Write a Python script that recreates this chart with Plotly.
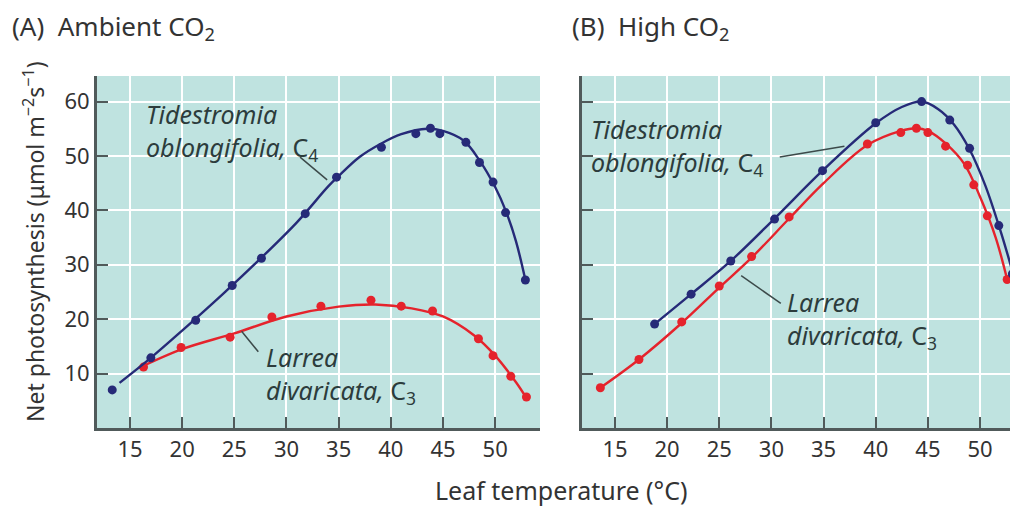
import plotly.graph_objects as go

# ---------------- data ----------------
# Panel A: ambient CO2
a_c4_temp = [13.3, 17.0, 21.3, 24.8, 27.6, 31.8, 34.8, 39.1, 42.4, 43.8, 44.7, 47.2, 48.5, 49.8, 51.0, 52.9]
a_c4_rate = [7.0, 12.9, 19.8, 26.2, 31.2, 39.4, 46.1, 51.6, 54.1, 55.1, 54.1, 52.5, 48.8, 45.2, 39.6, 27.2]
a_c3_temp = [16.3, 19.9, 24.6, 28.6, 33.3, 38.1, 41.0, 44.0, 48.4, 49.8, 51.5, 53.0]
a_c3_rate = [11.2, 14.8, 16.7, 20.4, 22.4, 23.5, 22.4, 21.5, 16.4, 13.3, 9.5, 5.7]

# fitted curves, panel A
a_c4_fit_temp = [14.0, 17.0, 20.0, 24.0, 27.0, 31.0, 34.0, 35.0, 37.0, 39.0, 41.0, 43.5, 45.0, 47.0, 48.5, 50.0, 51.0, 52.0, 52.9]
a_c4_fit_rate = [8.3, 12.9, 17.9, 24.8, 30.2, 37.8, 44.4, 46.3, 49.8, 52.2, 54.0, 55.0, 54.6, 52.8, 49.2, 44.3, 40.0, 34.3, 27.2]
a_c3_fit_temp = [15.8, 20.0, 25.0, 30.0, 35.0, 38.5, 42.0, 45.0, 48.0, 50.0, 52.0, 53.0]
a_c3_fit_rate = [11.0, 14.5, 17.4, 20.5, 22.3, 22.7, 22.0, 20.5, 17.0, 13.3, 8.4, 5.5]

# Panel B: high CO2
b_c4_temp = [18.8, 22.3, 26.1, 30.3, 34.9, 40.0, 44.4, 47.1, 49.0, 51.8, 53.1]
b_c4_rate = [19.1, 24.6, 30.7, 38.4, 47.3, 56.1, 60.0, 56.6, 51.4, 37.2, 28.3]
b_c3_temp = [13.6, 17.3, 21.4, 25.0, 28.1, 31.7, 39.2, 42.4, 43.9, 45.0, 46.7, 48.8, 49.4, 50.7, 52.6]
b_c3_rate = [7.4, 12.6, 19.5, 26.1, 31.5, 38.8, 52.2, 54.3, 55.1, 54.3, 51.8, 48.3, 44.7, 39.0, 27.3]

b_c4_fit_temp = [18.8, 22.3, 26.1, 30.3, 34.9, 40.0, 42.5, 44.4, 46.0, 47.5, 49.0, 50.5, 52.0, 53.3]
b_c4_fit_rate = [19.1, 24.6, 30.7, 38.5, 47.3, 56.0, 59.0, 60.0, 58.6, 55.8, 51.2, 44.6, 36.0, 27.5]
b_c3_fit_temp = [13.6, 17.3, 21.4, 25.0, 28.1, 31.7, 35.0, 39.2, 42.4, 43.9, 45.0, 46.7, 48.5, 50.0, 51.5, 52.6]
b_c3_fit_rate = [7.4, 12.6, 19.3, 25.8, 31.3, 38.5, 45.0, 52.0, 54.6, 55.1, 54.6, 52.3, 48.5, 42.5, 35.0, 27.3]

x_ticks = [15, 20, 25, 30, 35, 40, 45, 50]
y_ticks = [10, 20, 30, 40, 50, 60]

# ---------------- styling ----------------
BLUE = "#262a78"
RED = "#e5232c"
BG = "#bfe3e0"
AXIS = "#505a5a"
TXT = "#333333"
LBL = "#2c3c3c"
FONT = "Noto Sans"

# the page adds an 8 px body margin; the figure is sized to fill the rest of the window
OFF = 8
W, H = 1018 - OFF, 506 - OFF
L, R, T, B = 97 - OFF, 0, 76 - OFF, 78
PW = W - L - R
PH = H - T - B


def px(x):
    return (x - OFF - L) / PW


def py(y):
    return (H - B - (y - OFF)) / PH


fig = go.Figure()

def add_series(t, r, ft, fr, color, xa, ya):
    fig.add_trace(go.Scatter(x=ft, y=fr, mode="lines", line=dict(color=color, width=2.4, shape="spline", smoothing=1.0),
                             xaxis=xa, yaxis=ya, hoverinfo="skip", showlegend=False))
    fig.add_trace(go.Scatter(x=t, y=r, mode="markers", marker=dict(color=color, size=9),
                             xaxis=xa, yaxis=ya, showlegend=False))

add_series(a_c3_temp, a_c3_rate, a_c3_fit_temp, a_c3_fit_rate, RED, "x", "y")
add_series(a_c4_temp, a_c4_rate, a_c4_fit_temp, a_c4_fit_rate, BLUE, "x", "y")
add_series(b_c3_temp, b_c3_rate, b_c3_fit_temp, b_c3_fit_rate, RED, "x2", "y2")
add_series(b_c4_temp, b_c4_rate, b_c4_fit_temp, b_c4_fit_rate, BLUE, "x2", "y2")

xa_common = dict(tickvals=x_ticks, ticks="inside", ticklen=11, tickwidth=2, tickcolor=AXIS,
                 showline=True, linecolor=AXIS, linewidth=3, showgrid=True, gridcolor="white", gridwidth=2,
                 zeroline=False, tickfont=dict(family=FONT, size=22, color=TXT), mirror=False, fixedrange=True)
ya_common = dict(tickvals=y_ticks, ticks="inside", ticklen=11, tickwidth=2, tickcolor=AXIS,
                 showline=True, linecolor=AXIS, linewidth=3, showgrid=True, gridcolor="white", gridwidth=2,
                 zeroline=False, range=[0, 64.7], tickfont=dict(family=FONT, size=22, color=TXT), fixedrange=True)

dA = [0, px(540)]
dB = [px(582), 1]

fig.update_layout(
    width=W, height=H,
    margin=dict(l=L, r=R, t=T, b=B),
    paper_bgcolor="white",
    plot_bgcolor="white",
    xaxis=dict(domain=dA, range=[11.84, 54.3], anchor="y", **xa_common),
    yaxis=dict(domain=[0, 1], anchor="x", **ya_common),
    xaxis2=dict(domain=dB, range=[11.84, 53.64], anchor="y2", **xa_common),
    yaxis2=dict(domain=[0, 1], anchor="x2", showticklabels=False, **ya_common),
    showlegend=False,
)

# teal panel backgrounds
for xr, yr in (("x domain", "y domain"), ("x2 domain", "y2 domain")):
    fig.add_shape(type="rect", xref=xr, yref=yr, x0=0, x1=1, y0=0, y1=1,
                  fillcolor=BG, line=dict(width=0), layer="below")

# leader lines
leaders = [
    ("x", "y", 31.3, 49.8, 33.9, 45.6),
    ("x", "y", 25.7, 17.8, 27.3, 14.0),
    ("x2", "y2", 30.8, 49.8, 37.0, 51.8),
    ("x2", "y2", 27.1, 28.0, 30.9, 22.9),
]
for xr, yr, x0, y0, x1, y1 in leaders:
    fig.add_shape(type="line", xref=xr, yref=yr, x0=x0, y0=y0, x1=x1, y1=y1,
                  line=dict(color="#3c4a4a", width=1.5))

def label(text, x, y, size=25, color=LBL, xanchor="left", angle=0):
    fig.add_annotation(text=text, xref="paper", yref="paper", x=px(x), y=py(y),
                       xanchor=xanchor, yanchor="middle", showarrow=False, textangle=angle,
                       align="left", font=dict(family=FONT, size=size, color=color))

# curve labels
label("<i>Tidestromia</i><br><i>oblongifolia,</i> C<sub>4</sub>", 144, 132)
label("<i>Larrea</i><br><i>divaricata,</i> C<sub>3</sub>", 264, 375)
label("<i>Tidestromia</i><br><i>oblongifolia,</i> C<sub>4</sub>", 589, 147)
label("<i>Larrea</i><br><i>divaricata,</i> C<sub>3</sub>", 785, 320)

# panel titles
label("(A)  Ambient CO<sub>2</sub>", 10, 27, size=26, color=TXT)
label("(B)  High CO<sub>2</sub>", 570, 27, size=26, color=TXT)

# axis titles
label("Leaf temperature (°C)", 561, 490, size=25, color=TXT, xanchor="center")
label("Net photosynthesis (μmol m<sup>−2</sup>s<sup>−1</sup>)", 34, 242, size=23, color=TXT, xanchor="center", angle=-90)

fig.write_html("out.html")
